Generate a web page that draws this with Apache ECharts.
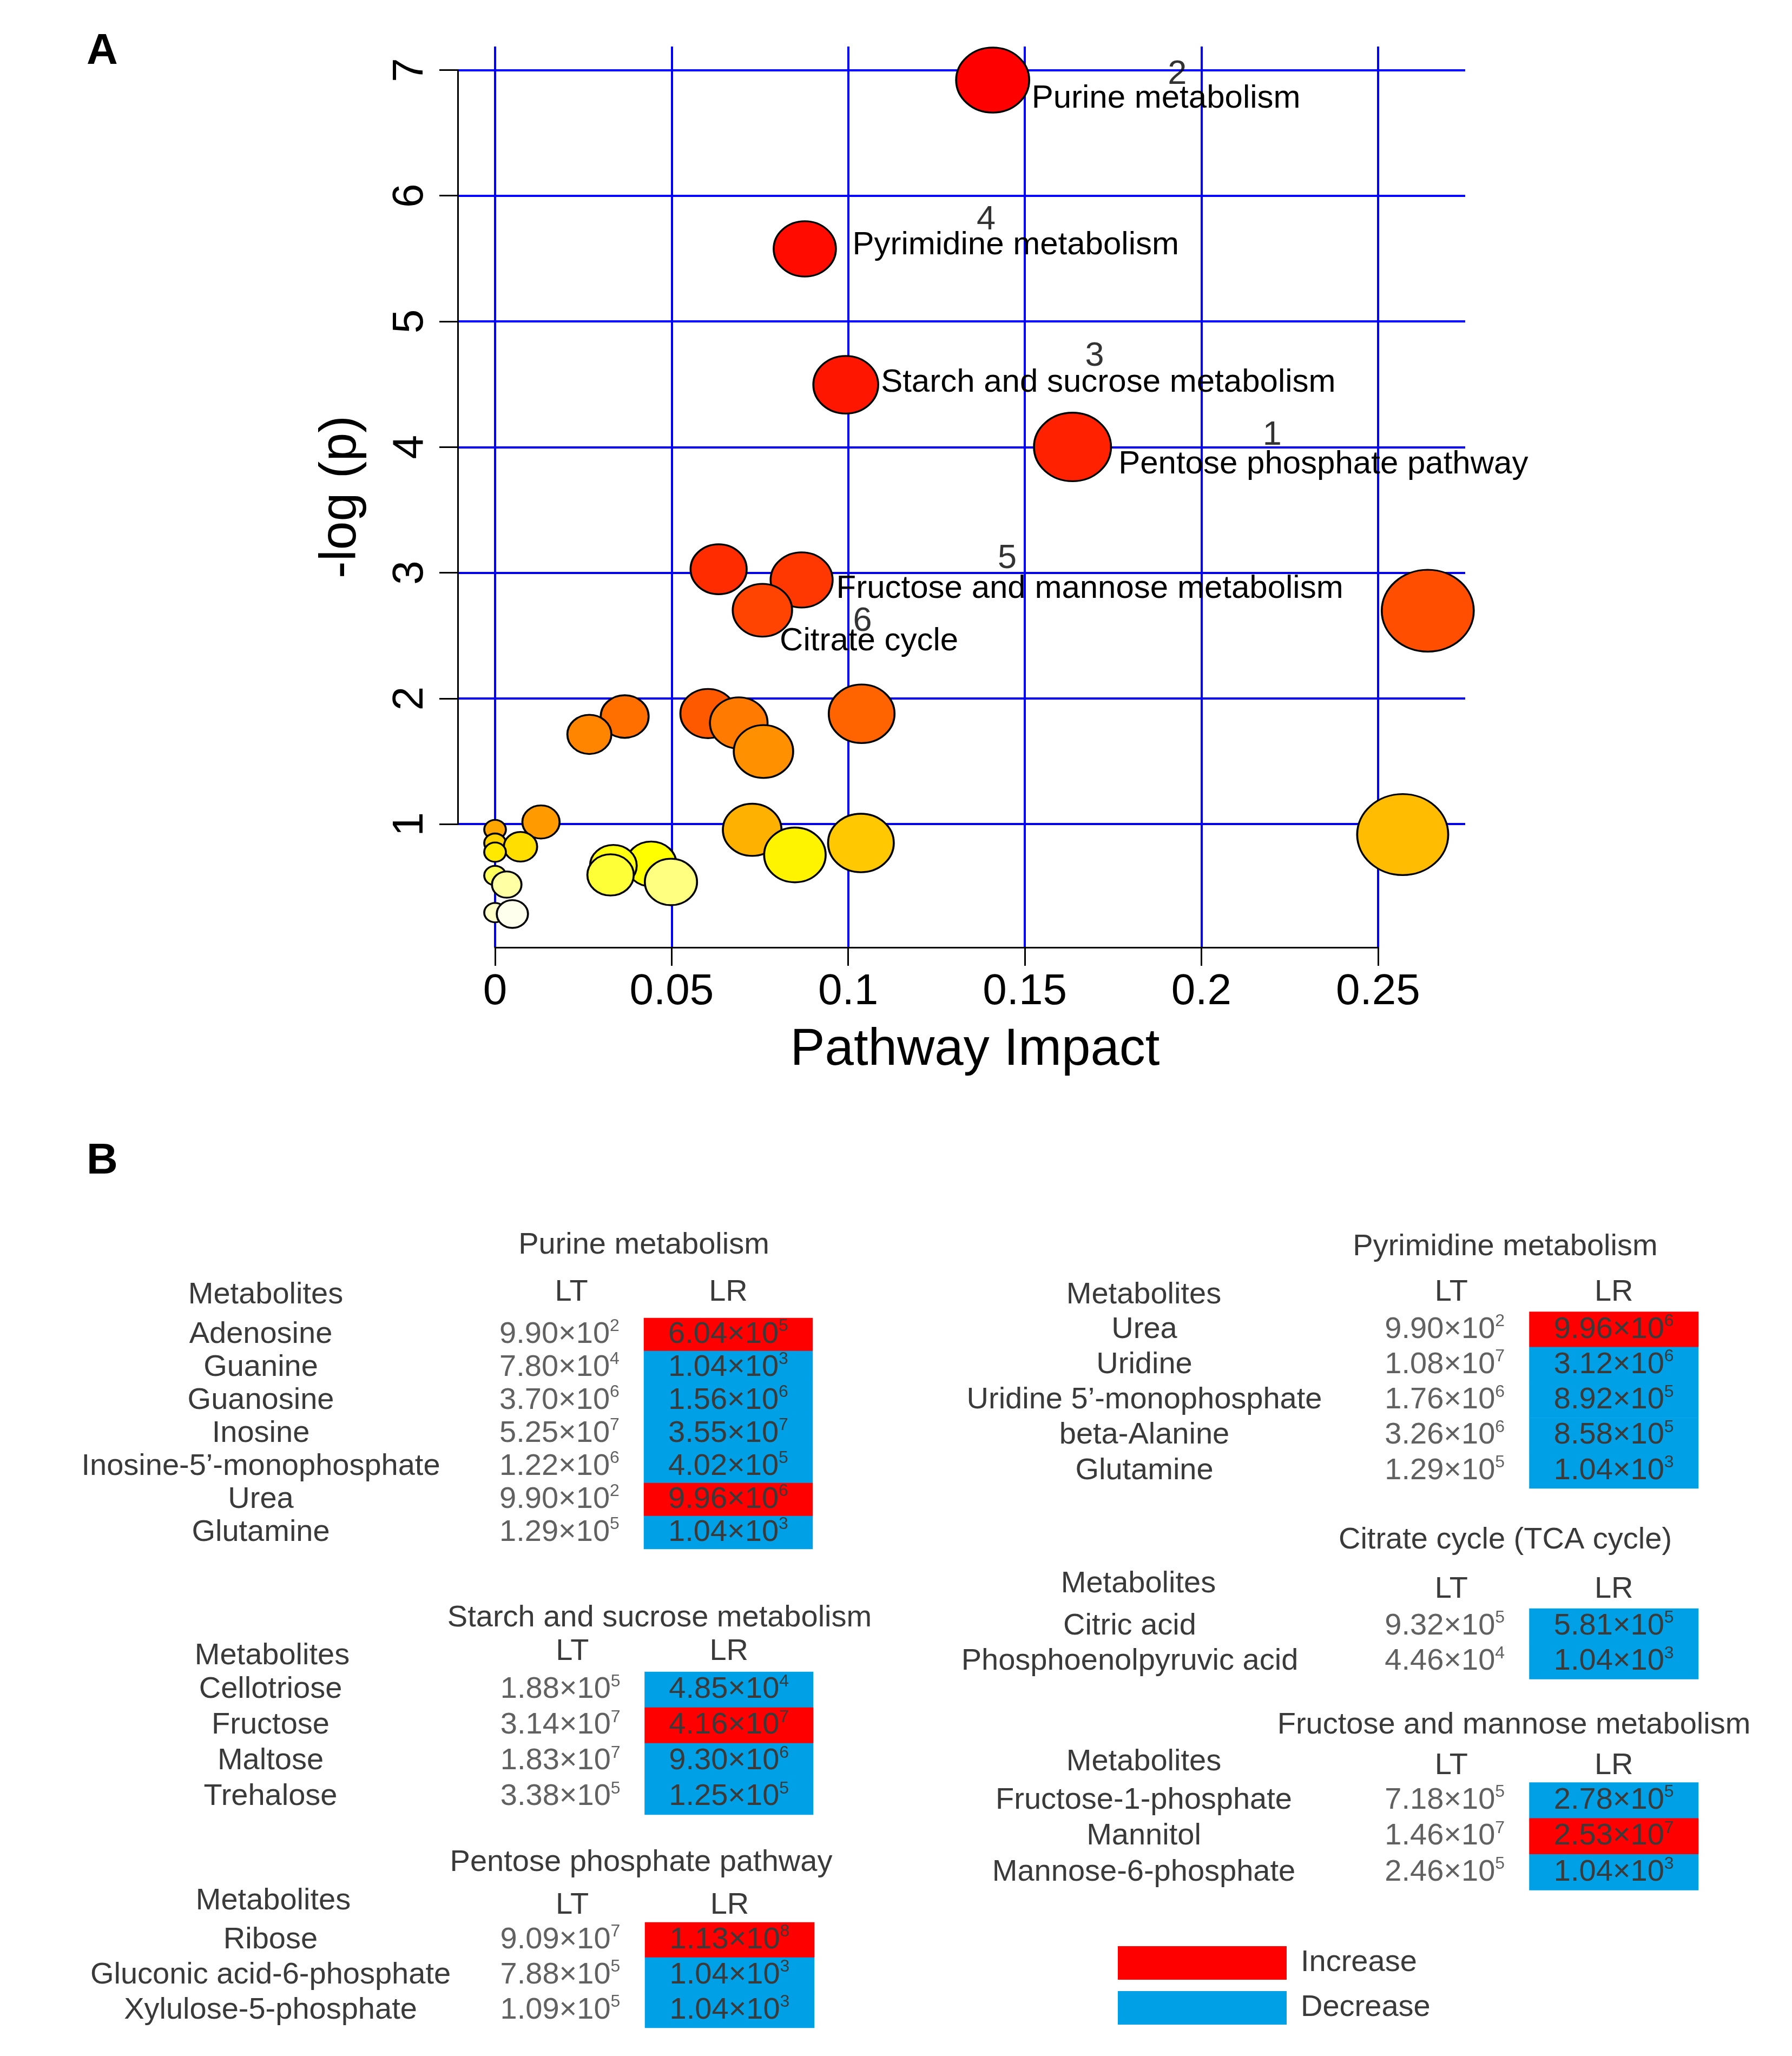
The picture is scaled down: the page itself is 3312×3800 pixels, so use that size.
<!DOCTYPE html>
<html><head><meta charset="utf-8">
<script src="https://cdn.jsdelivr.net/npm/echarts@6/dist/echarts.min.js"></script>
<style>html,body{margin:0;padding:0;background:#fff}#c{width:3312px;height:3800px}</style>
</head><body><div id="c"></div>
<script>
// ================= Panel A data =================
const impact  = [0.1409, 0.0877, 0.0993, 0.1635, 0.0868, 0.0757, 0.0633, 0.2641, 0.0603, 0.1038, 0.0367,
                 0.0690, 0.0267, 0.0760, 0.0130, 0.0000, 0.0728, 0.2570, 0.1036, 0.0000, 0.0072, 0.0000,
                 0.0849, 0.0442, 0.0335, 0.0327, 0.0000, 0.0498, 0.0033, 0.0000, 0.0049];
const negLogP = [6.920, 5.577, 4.496, 4.001, 2.943, 2.702, 3.028, 2.698, 1.880, 1.878, 1.856,
                 1.805, 1.714, 1.578, 1.017, 0.957, 0.955, 0.917, 0.850, 0.849, 0.820, 0.777,
                 0.755, 0.683, 0.669, 0.596, 0.591, 0.540, 0.519, 0.296, 0.285];
// first six points are the annotated pathways
const pathwayName = ['Purine metabolism', 'Pyrimidine metabolism', 'Starch and sucrose metabolism',
                     'Pentose phosphate pathway', 'Fructose and mannose metabolism', 'Citrate cycle'];
const pathwayNo   = ['2', '4', '3', '1', '5', '6'];
const xTicks = [0, 0.05, 0.1, 0.15, 0.2, 0.25];
const yTicks = [1, 2, 3, 4, 5, 6, 7];

// ================= Panel B data =================
const purineNames = ['Adenosine', 'Guanine', 'Guanosine', 'Inosine', 'Inosine-5\u2019-monophosphate', 'Urea', 'Glutamine'];
const purineLT = [9.90e2, 7.80e4, 3.70e6, 5.25e7, 1.22e6, 9.90e2, 1.29e5];
const purineLR = [6.04e5, 1.04e3, 1.56e6, 3.55e7, 4.02e5, 9.96e6, 1.04e3];

const starchNames = ['Cellotriose', 'Fructose', 'Maltose', 'Trehalose'];
const starchLT = [1.88e5, 3.14e7, 1.83e7, 3.38e5];
const starchLR = [4.85e4, 4.16e7, 9.30e6, 1.25e5];

const pentoseNames = ['Ribose', 'Gluconic acid-6-phosphate', 'Xylulose-5-phosphate'];
const pentoseLT = [9.09e7, 7.88e5, 1.09e5];
const pentoseLR = [1.13e8, 1.04e3, 1.04e3];

const pyrimidineNames = ['Urea', 'Uridine', 'Uridine 5\u2019-monophosphate', 'beta-Alanine', 'Glutamine'];
const pyrimidineLT = [9.90e2, 1.08e7, 1.76e6, 3.26e6, 1.29e5];
const pyrimidineLR = [9.96e6, 3.12e6, 8.92e5, 8.58e5, 1.04e3];

const citrateNames = ['Citric acid', 'Phosphoenolpyruvic acid'];
const citrateLT = [9.32e5, 4.46e4];
const citrateLR = [5.81e5, 1.04e3];

const fructoseNames = ['Fructose-1-phosphate', 'Mannitol', 'Mannose-6-phosphate'];
const fructoseLT = [7.18e5, 1.46e7, 2.46e5];
const fructoseLR = [2.78e5, 2.53e7, 1.04e3];

const columnHeads = ['LT', 'LR'];
const changeLabels = ['Decrease', 'Increase'];

// ================= styles / layout =================
const FONT = '"Liberation Sans", Arial, Helvetica, sans-serif';
const TXT = '#3a3a3a';
const RED = '#FF0000', BLUE = '#00A0E6';
const plot = { left: 846, top: 86, width: 1862, height: 1665 };
const xRange = [-0.01057, 0.2747], yRange = [0.0194, 7.187];
const px = v => plot.left + (v - xRange[0]) / (xRange[1] - xRange[0]) * plot.width;
const py = v => plot.top + (yRange[1] - v) / (yRange[1] - yRange[0]) * plot.height;

// label placement (pixels relative to bubble centre)
const nameOffset = [[72, 34], [88, -7], [65, -4], [85, 32], [64, 17], [32, 58]];
const numOffset  = [[341, -10], [335, -53], [460, -52], [369, -21], [380, -39], [185, 21]];

// R heat.colors(n) assigned by rank of -log(p)
function heatColors(n) {
  const j = Math.floor(n / 4), i = n - j, out = [];
  const hex = (r, g, b) => '#' + [r, g, b].map(c => Math.round(c * 255).toString(16).padStart(2, '0')).join('');
  for (let k = 0; k < i; k++) { const h = i > 1 ? k / (i - 1) / 6 : 0; out.push(hex(1, h * 6, 0)); }
  for (let k = 0; k < j; k++) {
    const s0 = 1 - 1 / (2 * j), s1 = 1 / (2 * j);
    const s = j > 1 ? s0 + (s1 - s0) * k / (j - 1) : s0;
    out.push(hex(1, 1, 1 - s));
  }
  return out;
}
const heat = heatColors(impact.length);
const order = impact.map((_, i) => i).sort((a, b) => negLogP[b] - negLogP[a]);
const ELLIPSE = 'path://M50,0C77.6,0 100,22.4 100,50C100,77.6 77.6,100 50,100C22.4,100 0,77.6 0,50C0,22.4 22.4,0 50,0Z';
const bubbleW = v => 40 + 253 * Math.sqrt(v);

const bubbleData = order.map((idx, rank) => {
  const item = {
    value: [impact[idx], negLogP[idx]],
    symbolSize: [bubbleW(impact[idx]), 0.89 * bubbleW(impact[idx])],
    itemStyle: { color: heat[rank] }
  };
  if (idx < pathwayName.length) {
    item.label = { show: true, position: 'inside', align: 'left', verticalAlign: 'middle',
      offset: nameOffset[idx], formatter: pathwayName[idx], fontSize: 60, color: '#000', fontFamily: FONT };
  }
  return item;
});
const numberData = pathwayNo.map((n, idx) => ({
  value: [impact[idx], negLogP[idx]],
  label: { show: true, position: 'inside', align: 'center', verticalAlign: 'middle',
    offset: numOffset[idx], formatter: n, fontSize: 63, color: '#000', fontFamily: FONT }
}));

// ================= tables =================
function sci(v) {
  const parts = v.toExponential(2).split('e');
  return '{m|' + parts[0] + '\u00d710}{s|' + (+parts[1]) + '}';
}
const rich = {
  m: { fontSize: 56, color: TXT, lineHeight: 62, fontFamily: FONT },
  s: { fontSize: 32, color: TXT, lineHeight: 34, verticalAlign: 'top', fontFamily: FONT }
};
const tables = [
  { title: 'Purine metabolism', names: purineNames, lt: purineLT, lr: purineLR },
  { title: 'Starch and sucrose metabolism', names: starchNames, lt: starchLT, lr: starchLR },
  { title: 'Pentose phosphate pathway', names: pentoseNames, lt: pentoseLT, lr: pentoseLR },
  { title: 'Pyrimidine metabolism', names: pyrimidineNames, lt: pyrimidineLT, lr: pyrimidineLR },
  { title: 'Citrate cycle (TCA cycle)', names: citrateNames, lt: citrateLT, lr: citrateLR },
  { title: 'Fructose and mannose metabolism', names: fructoseNames, lt: fructoseLT, lr: fructoseLR }
];
const tableLayout = [
  { left: 878,  top: 2436,   width: 624, height: 427,   nameMargin: 396, headMargin: 19,  ltPad: 44, tx: 1190, ty: 2302, mx: 491,  my: 2394 },
  { left: 880,  top: 3090,   width: 623, height: 264,   nameMargin: 380, headMargin: 9,   ltPad: 44, tx: 1219, ty: 2991, mx: 503,  my: 3061 },
  { left: 879,  top: 3553,   width: 626, height: 195,   nameMargin: 379, headMargin: 3,   ltPad: 44, tx: 1185, ty: 3443, mx: 505,  my: 3514 },
  { left: 2514, top: 2424.5, width: 625, height: 326.5, nameMargin: 399, headMargin: 7.5, ltPad: 24, tx: 2782, ty: 2305, mx: 2114, my: 2394 },
  { left: 2514, top: 2973,   width: 625, height: 130.6, nameMargin: 426, headMargin: 7.5, ltPad: 24, tx: 2782, ty: 2847, mx: 2104, my: 2927.5 },
  { left: 2514, top: 3294.5, width: 625, height: 199,   nameMargin: 400, headMargin: 2.5, ltPad: 24, tx: 2798, ty: 3189, mx: 2114, my: 3257 }
];

const grids = [
  Object.assign({ outerBoundsMode: 'none' }, plot),
  { outerBoundsMode: 'none', left: px(xTicks[0]), width: px(xTicks[xTicks.length - 1]) - px(xTicks[0]), top: plot.top, height: plot.height },
  { outerBoundsMode: 'none', left: plot.left, width: plot.width, top: py(yTicks[yTicks.length - 1]), height: py(yTicks[0]) - py(yTicks[yTicks.length - 1]) }
];
const xAxes = [
  { gridIndex: 0, type: 'value', min: xRange[0], max: xRange[1], axisLine: { show: false }, axisTick: { show: false },
    axisLabel: { show: false }, splitLine: { show: false }, name: 'Pathway Impact', nameLocation: 'middle',
    nameGap: 143, nameMoveOverlap: false, nameTextStyle: { fontSize: 96, color: '#000', fontFamily: FONT, padding: [0, 0, 0, 50] } },
  { gridIndex: 1, type: 'value', min: xTicks[0], max: xTicks[xTicks.length - 1], interval: xTicks[1] - xTicks[0],
    axisLine: { show: true, onZero: false, lineStyle: { color: '#000', width: 3 } },
    axisTick: { show: true, length: 34, lineStyle: { color: '#000', width: 3 } },
    axisLabel: { show: true, fontSize: 80, color: '#000', margin: 43, fontFamily: FONT },
    splitLine: { show: true, lineStyle: { color: '#0000FF', width: 4 } } },
  { gridIndex: 2, type: 'value', min: 0, max: 1, show: false }
];
const yAxes = [
  { gridIndex: 0, type: 'value', min: yRange[0], max: yRange[1], axisLine: { show: false }, axisTick: { show: false },
    axisLabel: { show: false }, splitLine: { show: false }, name: '-log (p)', nameLocation: 'middle', nameRotate: 90,
    nameGap: 168, nameMoveOverlap: false, nameTextStyle: { fontSize: 95, color: '#000', fontFamily: FONT } },
  { gridIndex: 1, type: 'value', min: 0, max: 1, show: false },
  { gridIndex: 2, type: 'value', min: yTicks[0], max: yTicks[yTicks.length - 1], interval: yTicks[1] - yTicks[0],
    axisLine: { show: true, onZero: false, lineStyle: { color: '#000', width: 3 } },
    axisTick: { show: true, length: 34, lineStyle: { color: '#000', width: 3 } },
    axisLabel: { show: true, fontSize: 80, color: '#000', margin: 47, rotate: 90, fontFamily: FONT },
    splitLine: { show: true, lineStyle: { color: '#0000FF', width: 4 } } }
];
const series = [
  { type: 'scatter', xAxisIndex: 0, yAxisIndex: 0, symbol: ELLIPSE, data: bubbleData, z: 5,
    itemStyle: { borderColor: '#000', borderWidth: 3.5, opacity: 1 }, emphasis: { disabled: true } },
  { type: 'scatter', xAxisIndex: 0, yAxisIndex: 0, symbolSize: 0.01, data: numberData, z: 6,
    itemStyle: { color: '#000' }, emphasis: { disabled: true } }
];
const graphics = [
  { type: 'text', x: 160, y: 96, style: { text: 'A', font: 'bold 80px ' + FONT, fill: '#000', align: 'left', verticalAlign: 'middle' } },
  { type: 'text', x: 160, y: 2147, style: { text: 'B', font: 'bold 80px ' + FONT, fill: '#000', align: 'left', verticalAlign: 'middle' } }
];
const heatSeriesIdx = [];
tables.forEach((t, k) => {
  const L = tableLayout[k];
  const gi = grids.length;
  grids.push({ outerBoundsMode: 'none', left: L.left, top: L.top, width: L.width, height: L.height });
  xAxes.push({ gridIndex: gi, type: 'category', data: columnHeads, position: 'top',
    axisLine: { show: false }, axisTick: { show: false }, splitLine: { show: false },
    axisLabel: { fontSize: 56, color: TXT, margin: L.headMargin, fontFamily: FONT, interval: 0,
      formatter: (v, i) => i === 0 ? '{lt|' + v + '}' : '{lr|' + v + '}',
      rich: { lt: { fontSize: 56, color: TXT, padding: [0, 0, 0, L.ltPad], fontFamily: FONT },
              lr: { fontSize: 56, color: TXT, fontFamily: FONT } } } });
  yAxes.push({ gridIndex: gi, type: 'category', data: t.names, inverse: true,
    axisLine: { show: false }, axisTick: { show: false }, splitLine: { show: false },
    axisLabel: { fontSize: 56, color: TXT, margin: L.nameMargin, align: 'center', fontFamily: FONT, interval: 0 } });
  heatSeriesIdx.push(series.length);
  series.push({ type: 'heatmap', xAxisIndex: gi, yAxisIndex: gi,
    data: t.lr.map((v, i) => [1, i, v > t.lt[i] ? 1 : 0, v]),
    label: { show: true, formatter: p => sci(p.data[3]), rich: rich },
    itemStyle: { borderWidth: 0 }, emphasis: { disabled: true } });
  series.push({ type: 'scatter', xAxisIndex: gi, yAxisIndex: gi, symbolSize: 0.01,
    data: t.lt.map((v, i) => [0, i, v]), itemStyle: { color: TXT },
    label: { show: true, position: 'inside', formatter: p => sci(p.data[2]), rich: rich },
    emphasis: { disabled: true } });
  graphics.push({ type: 'text', x: L.tx, y: L.ty, style: { text: t.title, font: '56px ' + FONT, fill: TXT, align: 'center', verticalAlign: 'middle' } });
  graphics.push({ type: 'text', x: L.mx, y: L.my, style: { text: 'Metabolites', font: '56px ' + FONT, fill: TXT, align: 'center', verticalAlign: 'middle' } });
});

const chart = echarts.init(document.getElementById('c'), null, { renderer: 'canvas' });
chart.setOption({
  animation: false,
  backgroundColor: '#fff',
  textStyle: { fontFamily: FONT },
  grid: grids, xAxis: xAxes, yAxis: yAxes, series: series, graphic: graphics,
  visualMap: {
    type: 'piecewise', seriesIndex: heatSeriesIdx, dimension: 2, orient: 'vertical',
    left: 2066, top: 3597, padding: 0, itemWidth: 312, itemHeight: 62, itemGap: 21, textGap: 26,
    itemSymbol: 'rect', selectedMode: false, hoverLink: false, align: 'left',
    textStyle: { fontSize: 56, color: TXT, fontFamily: FONT },
    pieces: [ { value: 1, label: changeLabels[1], color: RED }, { value: 0, label: changeLabels[0], color: BLUE } ]
  }
});
</script></body></html>
